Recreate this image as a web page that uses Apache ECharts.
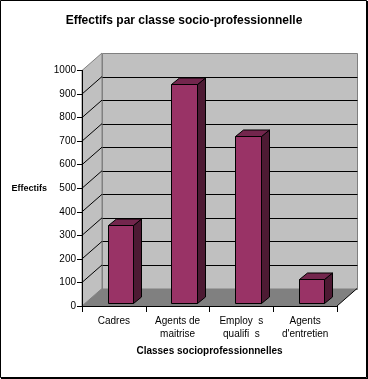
<!DOCTYPE html>
<html>
<head>
<meta charset="utf-8">
<script src="https://cdn.jsdelivr.net/npm/echarts@6/dist/echarts.min.js"></script>
<style>
html,body{margin:0;padding:0;background:#fff;}
#chart{width:368px;height:379px;}
</style>
</head>
<body>
<div id="chart"></div>
<script>
// ---- data ----
const categories = ['Cadres', 'Agents de\nmaitrise', 'Employ  s\nqualifi  s', 'Agents\nd\'entretien'];
const values = [330, 930, 710, 100];
const yTicks = [0, 100, 200, 300, 400, 500, 600, 700, 800, 900, 1000];
const titleText = 'Effectifs par classe socio-professionnelle';
const xName = 'Classes socioprofessionnelles';
const yName = 'Effectifs';

// ---- 3D look ----
const DX = 20, DY = 17.5;          // wall depth
const BDX = 8, BDY = 6.5;          // bar depth
const FSX = 0, FSY = 3;            // bar front plane offset
const FONT = '"Liberation Sans", Arial, Helvetica, sans-serif';

const chart = echarts.init(document.getElementById('chart'), null, {renderer: 'canvas'});

function r(v) { return Math.round(v) + 0.5; }

function renderWalls(params, api) {
  const cs = params.coordSys;
  const x0 = cs.x, x1 = cs.x + cs.width, yT = cs.y, y0 = cs.y + cs.height;
  const ch = [];
  ch.push({type: 'rect', shape: {x: r(x0 + DX), y: r(yT - DY), width: Math.round(x1 - x0), height: Math.round(y0 - yT)},
    style: {fill: '#c0c0c0', stroke: '#808080', lineWidth: 1}});
  ch.push({type: 'polygon', shape: {points: [[x0, y0], [x0, yT], [x0 + DX, yT - DY], [x0 + DX, y0 - DY]]},
    style: {fill: '#c0c0c0', stroke: '#808080', lineWidth: 1}});
  yTicks.forEach(function (v) {
    if (v === 0 || v === yTicks[yTicks.length - 1]) return;
    const y = api.coord([0, v])[1];
    ch.push({type: 'line', shape: {x1: x0, y1: y, x2: x0 + DX, y2: y - DY}, style: {stroke: '#000', lineWidth: 1}});
    ch.push({type: 'line', shape: {x1: r(x0 + DX), y1: r(y - DY), x2: r(x1 + DX), y2: r(y - DY)}, style: {stroke: '#000', lineWidth: 1}});
  });
  ch.push({type: 'polygon', shape: {points: [[x0, y0], [x1, y0], [x1 + DX, y0 - DY], [x0 + DX, y0 - DY]]},
    style: {fill: '#808080', stroke: null}});
  ch.push({type: 'line', shape: {x1: x1, y1: y0, x2: x1 + DX, y2: y0 - DY}, style: {stroke: '#000', lineWidth: 1}});
  return {type: 'group', children: ch};
}

function renderBar(params, api) {
  const i = api.value(0), v = api.value(1);
  const top = api.coord([i, v]);
  const base = api.coord([i, 0]);
  const band = api.size([1, 0])[0];
  const L = Math.round(base[0] - 0.1 * band + FSX) + 0.5;
  const R = Math.round(base[0] + 0.3 * band + FSX) + 0.5;
  const B = Math.round(base[1] - FSY) + 0.5;
  const T = Math.round(top[1] - FSY) + 0.5;
  const st = {stroke: '#000', lineWidth: 1, lineJoin: 'miter'};
  return {type: 'group', children: [
    {type: 'polygon', shape: {points: [[R, T], [R + BDX, T - BDY], [R + BDX, B - BDY], [R, B]]},
      style: Object.assign({fill: '#4d1a33'}, st)},
    {type: 'polygon', shape: {points: [[L, T], [R, T], [R + BDX, T - BDY], [L + BDX, T - BDY]]},
      style: Object.assign({fill: '#73264d'}, st)},
    {type: 'rect', shape: {x: L, y: T, width: R - L, height: B - T},
      style: Object.assign({fill: '#993366'}, st)}
  ]};
}

const option = {
  animation: false,
  backgroundColor: '#fff',
  title: {
    text: titleText, left: 'center', top: 10,
    textStyle: {fontFamily: FONT, fontSize: 12, fontWeight: 'bold', color: '#000'}
  },
  grid: {left: 82, top: 70.5, width: 255, height: 235.5},
  xAxis: {
    type: 'category', data: categories, z: 5,
    name: xName, nameLocation: 'middle', nameGap: 35,
    nameTextStyle: {fontFamily: FONT, fontSize: 10, fontWeight: 'bold', color: '#000'},
    axisLine: {lineStyle: {color: '#000', width: 1}},
    axisTick: {show: true, length: 6, alignWithLabel: false, lineStyle: {color: '#000'}},
    axisLabel: {fontFamily: FONT, fontSize: 10, color: '#000', margin: 9, lineHeight: 13, interval: 0},
    splitLine: {show: false}
  },
  yAxis: {
    type: 'value', min: 0, max: 1000, interval: 100, z: 5,
    name: yName, nameLocation: 'middle', nameRotate: 0, nameGap: 35,
    nameTextStyle: {fontFamily: FONT, fontSize: 9, fontWeight: 'bold', color: '#000'},
    axisLine: {show: true, lineStyle: {color: '#000', width: 1}},
    axisTick: {show: true, length: 5, lineStyle: {color: '#000'}},
    axisLabel: {fontFamily: FONT, fontSize: 10, color: '#000', margin: 6, formatter: function (v) { return String(v); }},
    splitLine: {show: false}
  },
  graphic: [
    {type: 'rect', shape: {x: 0.5, y: 0.5, width: 366, height: 377}, style: {fill: null, stroke: '#000', lineWidth: 1}, z: 100},
    {type: 'line', shape: {x1: 367.5, y1: 1, x2: 367.5, y2: 379}, style: {stroke: '#000', lineWidth: 1}, z: 100},
    {type: 'line', shape: {x1: 1, y1: 378.5, x2: 368, y2: 378.5}, style: {stroke: '#000', lineWidth: 1}, z: 100}
  ],
  series: [
    {type: 'custom', name: 'walls', z: 1, silent: true, renderItem: renderWalls, data: [[0, 0]], encode: {x: 0, y: 1}},
    {type: 'custom', name: yName, z: 2, renderItem: renderBar,
      data: values.map(function (v, i) { return [i, v]; }), encode: {x: 0, y: 1}}
  ]
};
chart.setOption(option);
</script>
</body>
</html>
